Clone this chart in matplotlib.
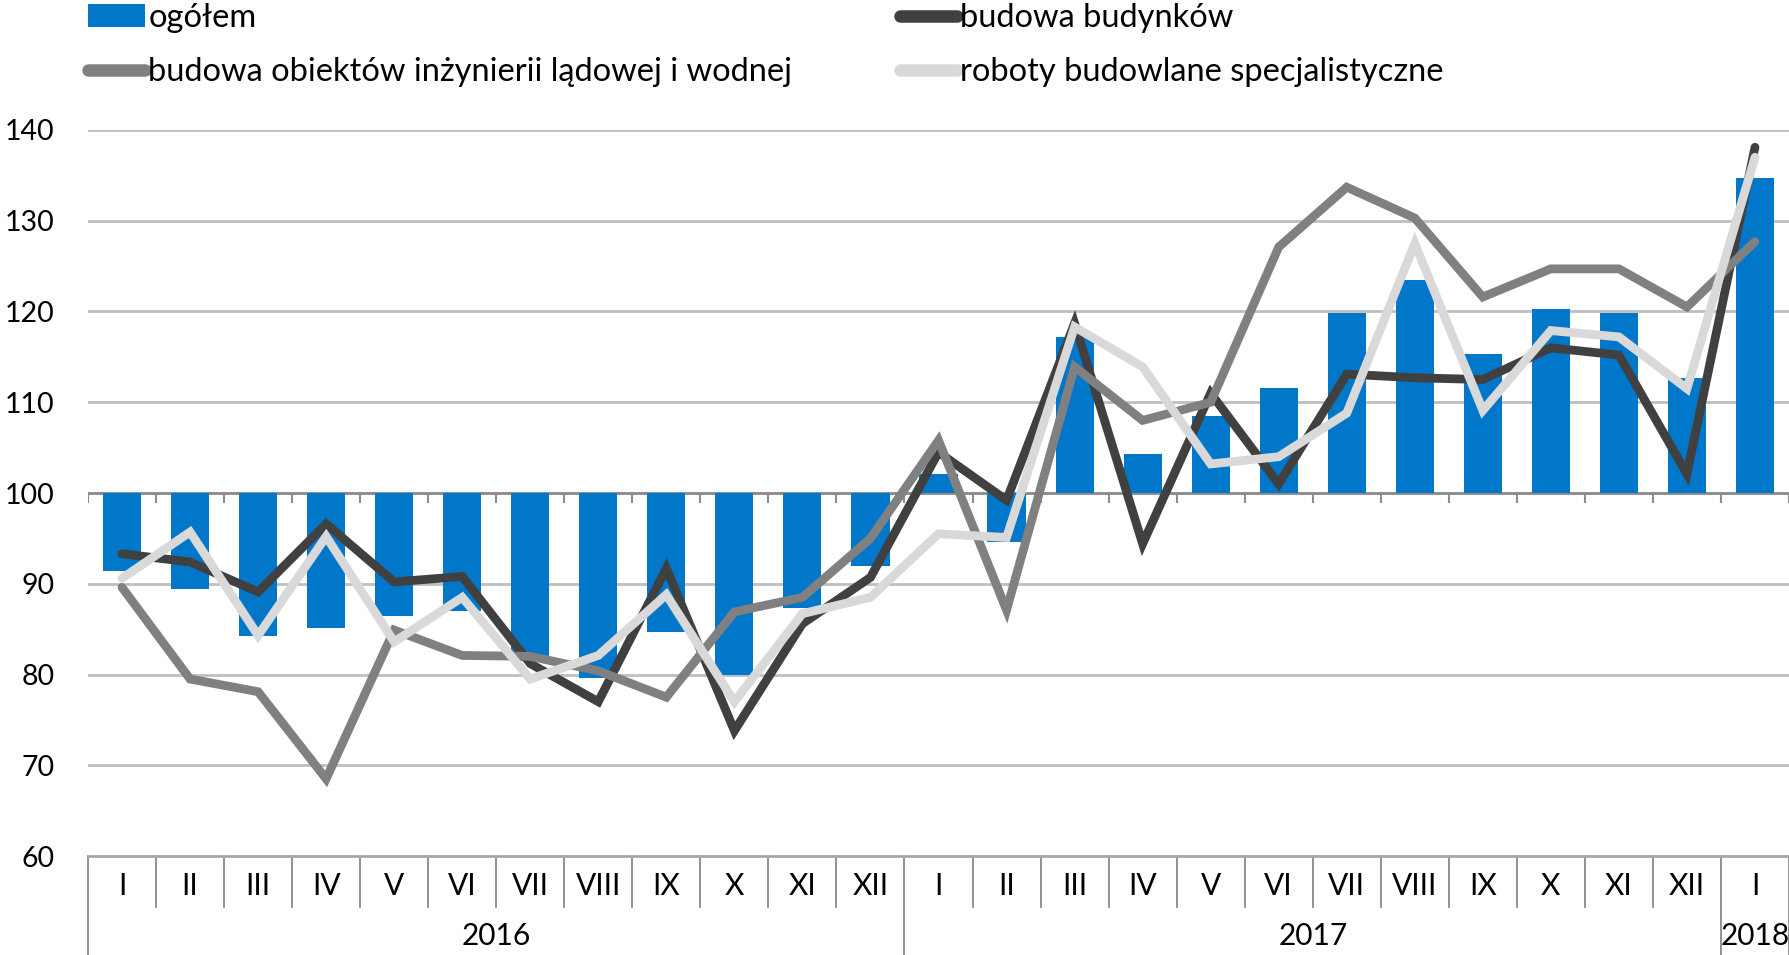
import matplotlib
matplotlib.use('Agg')
import matplotlib.pyplot as plt
import numpy as np
from matplotlib.patches import Patch
from matplotlib.lines import Line2D

plt.rcParams['font.family'] = ['Lato', 'DejaVu Sans']

months = ['I', 'II', 'III', 'IV', 'V', 'VI', 'VII', 'VIII', 'IX', 'X', 'XI', 'XII',
          'I', 'II', 'III', 'IV', 'V', 'VI', 'VII', 'VIII', 'IX', 'X', 'XI', 'XII',
          'I']
years = ['2016', '2017', '2018']
year_len = [12, 12, 1]

ogolem = [91.4, 89.4, 84.2, 85.1, 86.4, 87.0, 81.5, 79.6, 84.7, 79.9, 87.3, 92.0,
          102.1, 94.6, 117.2, 104.3, 108.5, 111.6, 119.8, 123.5, 115.3, 120.3, 119.8, 112.7,
          134.7]
budynki = [93.3, 92.4, 89.1, 96.6, 90.2, 90.8, 81.2, 77.0, 91.7, 73.8, 85.6, 90.7,
           104.5, 99.2, 118.7, 94.4, 111.0, 101.0, 113.1, 112.7, 112.5, 116.0, 115.2, 102.1,
           138.1]
inzynieria = [89.6, 79.5, 78.1, 68.5, 84.9, 82.1, 82.0, 80.4, 77.5, 86.9, 88.5, 95.0,
              105.8, 87.1, 113.9, 108.0, 110.0, 127.1, 133.7, 130.3, 121.6, 124.7, 124.7, 120.5,
              127.7]
specjalistyczne = [90.6, 95.7, 84.3, 95.2, 83.6, 88.5, 79.5, 82.1, 88.8, 77.0, 86.7, 88.5,
                   95.5, 95.1, 118.3, 113.9, 103.2, 104.0, 108.8, 127.5, 109.1, 117.9, 117.2, 111.5,
                   137.0]

c_bar = '#0077C8'
c_bud = '#404040'
c_inz = '#808080'
c_spe = '#D9D9D9'

x = np.arange(len(months))
W, H = 1790, 955
fig = plt.figure(figsize=(W / 100, H / 100), dpi=100)
ax = fig.add_axes([88 / W, (H - 856) / H, (1789 - 88) / W, (856 - 130) / H])

for v in range(70, 150, 10):
    ax.axhline(v, color='#BFBFBF', lw=2, zorder=0)
ax.axhline(100, color='#8C8C8C', lw=2, zorder=1)

ax.bar(x, np.array(ogolem) - 100, bottom=100, width=0.56, color=c_bar, zorder=2)

# tick marks on the 100 line
ax.vlines(np.arange(len(months) + 1) - 0.5, 98.9, 100, color='#8C8C8C', lw=1.5, zorder=1)

lw = 6.3
for vals, col in [(budynki, c_bud), (inzynieria, c_inz), (specjalistyczne, c_spe)]:
    ax.plot(x, vals, color=col, lw=lw, solid_capstyle='round', solid_joinstyle='miter', zorder=3)

ax.set_xlim(-0.5, len(months) - 0.5)
ax.set_ylim(60, 140)
ax.set_yticks(range(60, 150, 10))
ax.tick_params(axis='y', length=0, pad=24, labelsize=20.5)
ax.set_xticks([])
for s in ['top', 'right', 'left']:
    ax.spines[s].set_visible(False)
ax.spines['bottom'].set_color('#A6A6A6')
ax.spines['bottom'].set_linewidth(2)

# two level category axis
trans = ax.get_xaxis_transform()
ph = 856 - 130
m_sep = -(907 - 856) / ph
y_sep = -(955 - 856) / ph
for i, m in enumerate(months):
    ax.text(i, -(886 - 856) / ph, m, transform=trans, ha='center', va='center', fontsize=21.5)
bounds = np.cumsum([0] + year_len) - 0.5
for i in range(len(months) + 1):
    xb = i - 0.5
    low = y_sep if xb in bounds else m_sep
    ax.plot([xb, xb], [0, low], transform=trans, color='#7F7F7F', lw=1.2, clip_on=False)
for k, yr in enumerate(years):
    mid = (bounds[k] + bounds[k + 1]) / 2
    ax.text(mid, -(936 - 856) / ph, yr, transform=trans, ha='center', va='center', fontsize=21.5)

# legend
fs = 23.5
h_bar = Patch(facecolor=c_bar, edgecolor='none')
h_bud = Line2D([], [], color=c_bud, lw=9, solid_capstyle='round')
h_inz = Line2D([], [], color=c_inz, lw=9, solid_capstyle='round')
h_spe = Line2D([], [], color=c_spe, lw=9, solid_capstyle='round')
kw = dict(frameon=False, fontsize=fs, handlelength=1.75, handleheight=0.7, handletextpad=0.1,
          labelspacing=0.75, borderaxespad=0, borderpad=0, loc='upper left')
leg1 = fig.legend([h_bar, h_inz], ['ogółem', 'budowa obiektów inżynierii lądowej i wodnej'],
                  bbox_to_anchor=(88 / W, 1 - 3 / H), **kw)
leg2 = fig.legend([h_bud, h_spe], ['budowa budynków', 'roboty budowlane specjalistyczne'],
                  bbox_to_anchor=(900 / W, 1 - 3 / H), **kw)

fig.savefig('out.png', dpi=100)
